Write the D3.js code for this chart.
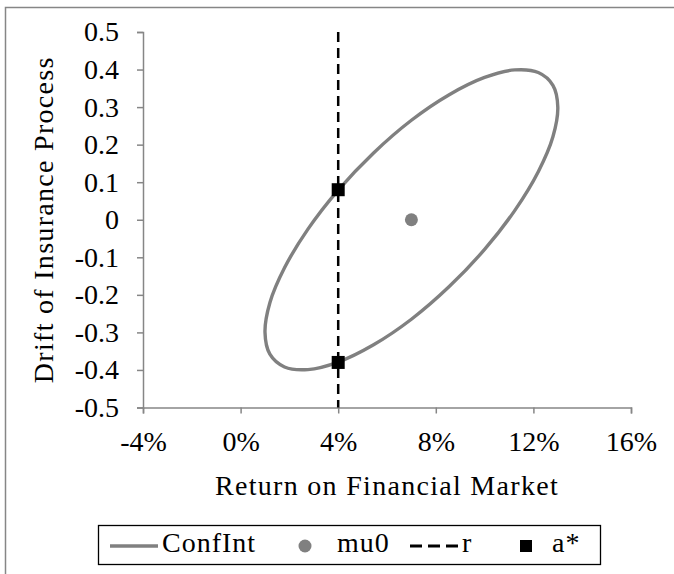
<!DOCTYPE html>
<html>
<head>
<meta charset="utf-8">
<script src="https://cdn.jsdelivr.net/npm/d3@7"></script>
<style>
  body { margin: 0; background: #fff; }
  text { font-family: "Liberation Serif", "Times New Roman", serif; fill: #000; }
</style>
</head>
<body>
<svg id="chart" width="674" height="574"></svg>
<script>
// ---- data ----
const xTicks = [-0.04, 0, 0.04, 0.08, 0.12, 0.16];
const yTicks = [-0.5, -0.4, -0.3, -0.2, -0.1, 0, 0.1, 0.2, 0.3, 0.4, 0.5];
const xTitle = "Return on Financial Market";
const yTitle = "Drift of Insurance Process";

// ConfInt ellipse
const confIntX = [0.1300, 0.1280, 0.1220, 0.1124, 0.1000, 0.0855, 0.0700, 0.0545,
                  0.0400, 0.0276, 0.0180, 0.0120, 0.0100, 0.0120, 0.0180, 0.0276,
                  0.0400, 0.0545, 0.0700, 0.0855, 0.1000, 0.1124, 0.1220, 0.1280];
const confIntY = [0.300, 0.358, 0.392, 0.399, 0.379, 0.333, 0.265, 0.178,
                  0.079, -0.025, -0.128, -0.221, -0.300, -0.358, -0.392, -0.399,
                  -0.379, -0.333, -0.265, -0.178, -0.079, 0.025, 0.128, 0.221];
// mu0 point
const mu0X = [0.07];
const mu0Y = [0.0];
// r vertical line
const rX = [0.04, 0.04];
const rY = [0.5, -0.5];
// a* points
const aStarX = [0.04, 0.04];
const aStarY = [0.08, -0.38];

const legendLabels = ["ConfInt", "mu0", "r", "a*"];

// ---- layout ----
const svg = d3.select("#chart");
const FS = 28;
const grey = "#808080";
const axisGrey = "#868686";

// outer chart border (extends past right/bottom edges)
svg.append("rect")
  .attr("x", 5.5).attr("y", 7.5).attr("width", 720).attr("height", 620)
  .attr("fill", "none").attr("stroke", axisGrey).attr("stroke-width", 1.5);

const x = d3.scaleLinear().domain([-0.04, 0.16]).range([143, 631]);
const y = d3.scaleLinear().domain([-0.5, 0.5]).range([407.5, 32]);

// axes
const xAxis = d3.axisBottom(x).tickValues(xTicks)
  .tickFormat(v => Math.round(v * 100) + "%").tickSize(6).tickPadding(18);
const yAxis = d3.axisLeft(y).tickValues(yTicks)
  .tickFormat(v => Math.abs(v) < 1e-9 ? "0" : v.toFixed(1)).tickSize(6).tickPadding(18);

const gx = svg.append("g").attr("transform", `translate(0,${y(-0.5)})`).call(xAxis);
const gy = svg.append("g").attr("transform", `translate(${x(-0.04)},0)`).call(yAxis);
[gx, gy].forEach(g => {
  g.select(".domain").attr("stroke", axisGrey).attr("stroke-width", 1.5);
  g.selectAll(".tick line").attr("stroke", axisGrey).attr("stroke-width", 1.5);
  g.selectAll(".tick text").attr("font-size", FS)
    .attr("font-family", "Liberation Serif").attr("fill", "#000");
});

// titles
svg.append("text")
  .attr("x", (x(-0.04) + x(0.16)) / 2).attr("y", 495)
  .attr("text-anchor", "middle").attr("font-size", FS)
  .attr("letter-spacing", 1.3)
  .text(xTitle);
svg.append("text")
  .attr("transform", `translate(53,${(y(0.5) + y(-0.5)) / 2}) rotate(-90)`)
  .attr("text-anchor", "middle").attr("font-size", FS)
  .attr("letter-spacing", 1.3)
  .text(yTitle);

// ConfInt ellipse
const ell = confIntX.map((v, i) => [x(v), y(confIntY[i])]);
svg.append("path")
  .attr("d", d3.line().curve(d3.curveCatmullRomClosed.alpha(0.5))(ell))
  .attr("fill", "none").attr("stroke", grey).attr("stroke-width", 3.4);

// r dashed line
svg.append("line")
  .attr("x1", x(rX[0])).attr("x2", x(rX[1]))
  .attr("y1", y(rY[0])).attr("y2", y(rY[1]))
  .attr("stroke", "#000").attr("stroke-width", 2.5).attr("stroke-dasharray", "10,6");

// mu0
svg.selectAll("circle.mu0").data(mu0X).enter().append("circle")
  .attr("class", "mu0")
  .attr("cx", d => x(d)).attr("cy", (d, i) => y(mu0Y[i]))
  .attr("r", 6.5).attr("fill", grey);

// a*
const sq = 13;
svg.selectAll("rect.astar").data(aStarX).enter().append("rect")
  .attr("class", "astar")
  .attr("x", d => x(d) - sq / 2).attr("y", (d, i) => y(aStarY[i]) - sq / 2)
  .attr("width", sq).attr("height", sq).attr("fill", "#000");

// legend
const lg = svg.append("g");
lg.append("rect").attr("x", 98.5).attr("y", 525.5).attr("width", 502).attr("height", 39)
  .attr("fill", "#fff").attr("stroke", "#000").attr("stroke-width", 1.3);
const ly = 546, lty = 552;
lg.append("line").attr("x1", 110).attr("x2", 158).attr("y1", ly).attr("y2", ly)
  .attr("stroke", grey).attr("stroke-width", 3.4);
lg.append("circle").attr("cx", 305).attr("cy", ly).attr("r", 6.5).attr("fill", grey);
lg.append("line").attr("x1", 410).attr("x2", 458).attr("y1", ly).attr("y2", ly)
  .attr("stroke", "#000").attr("stroke-width", 3).attr("stroke-dasharray", "12,6");
lg.append("rect").attr("x", 526 - 6).attr("y", ly - 6).attr("width", 12).attr("height", 12)
  .attr("fill", "#000");
const textX = [162, 337, 462, 552];
lg.selectAll("text.lt").data(legendLabels).enter().append("text")
  .attr("class", "lt")
  .attr("x", (d, i) => textX[i]).attr("y", lty)
  .attr("font-size", FS).attr("letter-spacing", 1)
  .text(d => d);
</script>
</body>
</html>
